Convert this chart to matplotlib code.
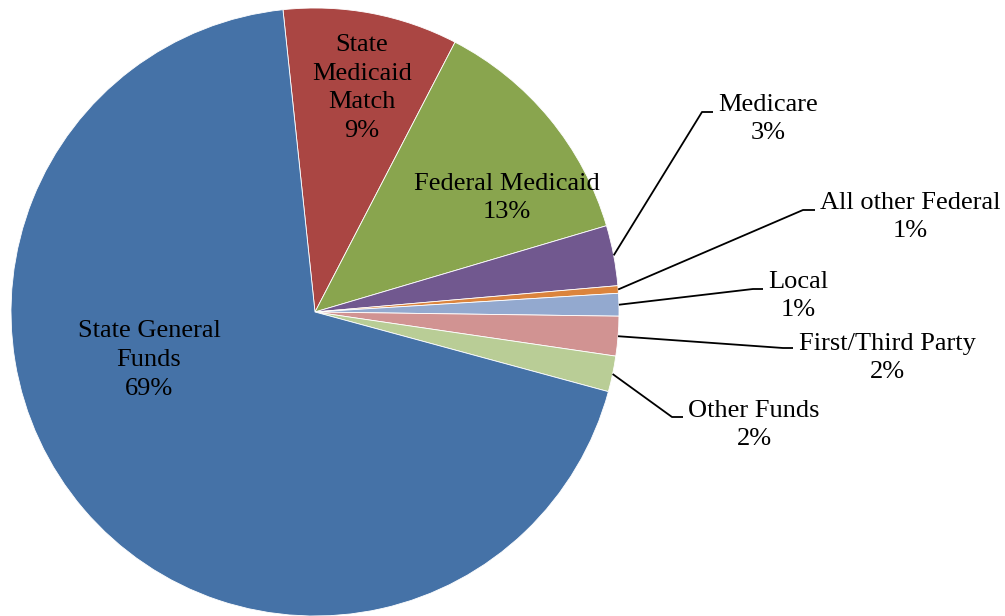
import matplotlib
matplotlib.use("Agg")
import matplotlib.pyplot as plt
import numpy as np

categories = ["State Medicaid Match", "Federal Medicaid", "Medicare", "All other Federal",
              "Local", "First/Third Party", "Other Funds", "State General Funds"]
values = [9.3, 12.8, 3.2, 0.4, 1.2, 2.1, 1.9, 69.1]
pct_labels = ["9%", "13%", "3%", "1%", "1%", "2%", "2%", "69%"]
label_text = ["State\nMedicaid\nMatch", "Federal Medicaid", "Medicare", "All other Federal",
              "Local", "First/Third Party", "Other Funds", "State General\nFunds"]
colors = ["#AA4643", "#89A54E", "#71588F", "#DB843D", "#93A9CF", "#D19392", "#B9CD96", "#4572A7"]

W, H = 1005, 616
CX, CY, R = 315.0, 312.0, 304.0

def px(x, y):
    return ((x - CX) / R, (CY - y) / R)

fig = plt.figure(figsize=(W / 100, H / 100), dpi=100)
ax = fig.add_axes([0, 0, 1, 1])
ax.axis("off")

wedges, _ = ax.pie(values, colors=colors, startangle=96.05, counterclock=False,
                   radius=1.0, center=(0, 0),
                   wedgeprops=dict(edgecolor="white", linewidth=0.6))
ax.set_xlim((0 - CX) / R, (W - CX) / R)
ax.set_ylim((CY - H) / R, CY / R)

font = dict(family=["Liberation Serif", "DejaVu Serif"], fontsize=19, color="black")
LS = 1.4

# inside labels (index -> pixel center)
inside = {0: (362, 88), 1: (507, 198), 7: (149, 360)}
for i, (x, y) in inside.items():
    ax.text(*px(x, y), label_text[i] + "\n" + pct_labels[i], ha="center", va="center",
            linespacing=LS, **font)

# outside labels: label center, elbow point, end point
outside = {
    2: ((768, 119), (702, 112), (713, 112)),
    3: ((910, 217), (803, 210), (815, 210)),
    4: ((798, 296), (753, 289), (763, 289)),
    5: ((887, 358), (783, 348), (793, 348)),
    6: ((754, 425), (672, 417), (683, 417)),
}
for i, (lab, elbow, end) in outside.items():
    w = wedges[i]
    mid = np.deg2rad((w.theta1 + w.theta2) / 2)
    sx, sy = np.cos(mid), np.sin(mid)
    ex, ey = px(*elbow)
    fx, fy = px(*end)
    ax.plot([sx, ex, fx], [sy, ey, fy], color="black", lw=1.3, solid_capstyle="butt")
    ax.text(*px(*lab), label_text[i] + "\n" + pct_labels[i], ha="center", va="center",
            linespacing=LS, **font)

fig.savefig("out.png", dpi=100)
